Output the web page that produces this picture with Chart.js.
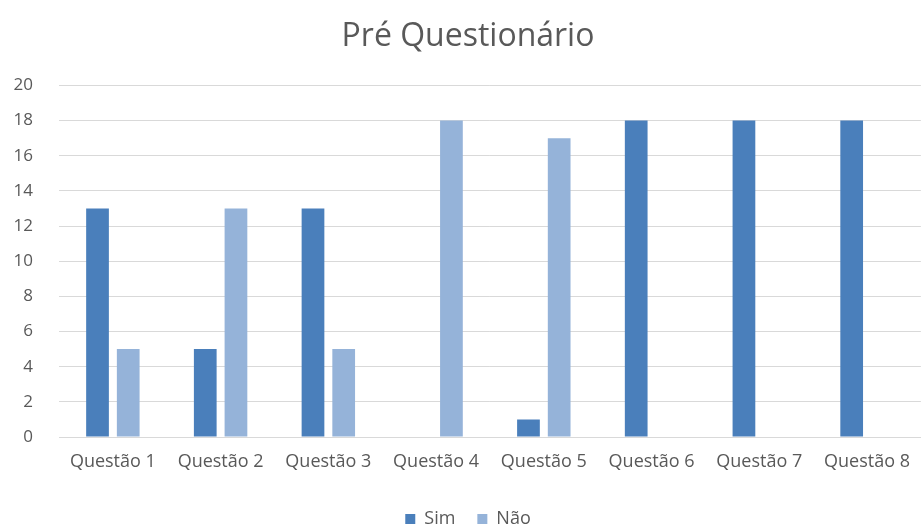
<!DOCTYPE html>
<html>
<head>
<meta charset="utf-8">
<script src="https://cdn.jsdelivr.net/npm/chart.js@4/dist/chart.umd.min.js"></script>
<style>
  html, body { margin: 0; padding: 0; background: #fff; }
</style>
</head>
<body>
<canvas id="preChart" width="924" height="532"></canvas>
<script>
// values
const questions = ['Questão 1', 'Questão 2', 'Questão 3', 'Questão 4', 'Questão 5', 'Questão 6', 'Questão 7', 'Questão 8'];
const simValues = [13, 5, 13, 0, 1, 18, 18, 18];
const naoValues = [5, 13, 5, 18, 17, 0, 0, 0];
const yTicks = [0, 2, 4, 6, 8, 10, 12, 14, 16, 18, 20];

const textColor = '#595959';
const fontFamily = '"Open Sans", "Noto Sans", sans-serif';

const ctx = document.getElementById('preChart').getContext('2d');
new Chart(ctx, {
  type: 'bar',
  data: {
    labels: questions,
    datasets: [
      {
        label: 'Sim',
        data: simValues,
        backgroundColor: '#4a7fbb',
        categoryPercentage: 0.57,
        barPercentage: 0.74,
      },
      {
        label: 'Não',
        data: naoValues,
        backgroundColor: '#95b3d9',
        categoryPercentage: 0.57,
        barPercentage: 0.74,
      },
    ],
  },
  options: {
    responsive: false,
    animation: false,
    layout: { padding: { left: 12, right: 0, top: 10, bottom: -6 } },
    plugins: {
      title: {
        display: true,
        text: 'Pré Questionário',
        color: textColor,
        font: { family: fontFamily, size: 32, weight: 'normal' },
        padding: { top: 8, bottom: 29 },
      },
      legend: {
        position: 'bottom',
        labels: {
          color: textColor,
          font: { family: fontFamily, size: 18 },
          boxWidth: 10,
          boxHeight: 10,
          padding: 22,
        },
      },
      tooltip: { enabled: false },
    },
    scales: {
      x: {
        grid: { display: false, drawTicks: false },
        border: { display: true, color: '#d9d9d9' },
        ticks: {
          color: textColor,
          font: { family: fontFamily, size: 18 },
          padding: 14,
          maxRotation: 0,
          autoSkip: false,
        },
        afterFit: axis => { axis.height = 51; },
      },
      y: {
        min: 0,
        max: 20,
        afterBuildTicks: axis => {
          axis.ticks = yTicks.map(v => ({ value: v }));
        },
        grid: { color: '#d9d9d9', drawTicks: false },
        border: { display: false },
        ticks: {
          color: textColor,
          font: { family: fontFamily, size: 17 },
          padding: 26,
        },
        afterFit: axis => { axis.width = 47; },
      },
    },
  },
});
</script>
</body>
</html>
